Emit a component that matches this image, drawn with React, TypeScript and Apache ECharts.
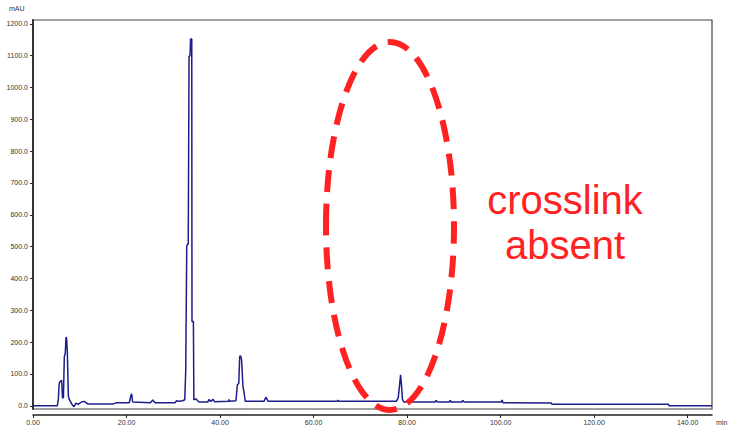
import React, { useEffect, useRef } from "react";
import * as echarts from "echarts";

const times: number[] = [
  0, 5.2, 5.42, 5.6, 5.78, 6.13, 6.3, 6.5, 6.7, 6.9, 7.06, 7.2, 7.34, 7.56, 7.77, 8.27, 8.77, 9.13, 9.7, 10.4, 10.98, 11.7,
  17.2, 17.9, 20.6, 20.9, 21.1, 21.3, 25.1, 25.6, 26.1, 30.4, 30.7, 31.2, 32.0, 32.45, 32.66, 32.88, 33.2, 33.37, 33.58,
  33.7, 33.95, 34.0, 34.3, 34.4, 34.8, 35.5, 37.4, 37.6, 38.0, 38.5, 38.8, 41.8, 41.9, 42.0, 43.4, 43.7, 44.0, 44.2, 44.4,
  44.6, 44.9, 45.1, 45.4, 49.4, 49.8, 50.3, 65.0, 65.2, 65.4, 77.7, 78.1, 78.4, 78.6, 78.8, 79.0, 79.3, 86.0, 86.2, 86.5,
  89.0, 89.2, 89.4, 91.7, 91.9, 92.2, 100.1, 100.3, 100.5, 110.8, 111.0, 135.9, 136.0, 145.2,
];
const absorbance: number[] = [
  0, 0, 21, 70, 76, 80, 25, 25, 155, 165, 216, 210, 170, 31, 20, 6, -3, 8, 5, 12, 14, 6,
  6, 10, 10, 30, 38, 12, 10, 18, 10, 10, 16, 14, 16, 19, 110, 503, 510, 1097, 1100,
  1152, 1152, 265, 265, 19, 22, 12, 12, 20, 14, 20, 13, 14, 20, 14, 16, 66, 70, 155, 157,
  145, 60, 45, 14, 14, 27, 14, 14, 18, 14, 14, 25, 66, 97, 66, 20, 12, 12, 17, 12,
  12, 17, 12, 12, 17, 12, 12, 18, 10, 9, 5, 5, 0, 0,
];
const xTicks: number[] = [0, 20, 40, 60, 80, 100, 120, 140];
const yTicks: number[] = [0, 100, 200, 300, 400, 500, 600, 700, 800, 900, 1000, 1100, 1200];
const annotationLines: string[] = ["crosslink", "absent"];

export default function App() {
  const ref = useRef<HTMLDivElement>(null);
  useEffect(() => {
    if (!ref.current) return;
    const chart = echarts.init(ref.current, undefined, { renderer: "svg" });
    const data = times.map((t, i) => [t, absorbance[i]]);
    const labelStyle = { fontSize: 7, color: "#333", fontFamily: "Liberation Sans, Arial, sans-serif" };
    chart.setOption({
      animation: false,
      backgroundColor: "#ffffff",
      grid: {
        left: 33,
        top: 20,
        right: 20,
        bottom: 18,
        show: true,
        borderColor: "#444",
        borderWidth: 1.2,
        backgroundColor: "transparent",
      },
      xAxis: {
        type: "value",
        min: 0,
        max: 145.2,
        offset: 6,
        axisLine: { show: true, onZero: false, lineStyle: { color: "#222", width: 1.5 } },
        axisTick: { show: true, length: 3, inside: false, customValues: xTicks, lineStyle: { color: "#222" } },
        axisLabel: { ...labelStyle, margin: 4, customValues: xTicks, formatter: (v: number) => v.toFixed(2) },
        splitLine: { show: false },
      },
      yAxis: {
        type: "value",
        min: -10,
        max: 1212,
        axisLine: { show: true, onZero: false, lineStyle: { color: "#333", width: 2 } },
        axisTick: { show: true, length: 3, inside: false, customValues: yTicks, lineStyle: { color: "#222" } },
        axisLabel: { ...labelStyle, margin: 5, customValues: yTicks, formatter: (v: number) => v.toFixed(1) },
        splitLine: { show: false },
      },
      series: [
        {
          type: "line",
          data,
          showSymbol: false,
          symbol: "none",
          lineStyle: { color: "#1c1c8a", width: 1.5 },
        },
      ],
      graphic: [
        {
          type: "text",
          left: 9,
          top: 5,
          style: { text: "mAU", ...labelStyle, fill: "#333", font: "7px Liberation Sans, Arial, sans-serif" },
        },
        {
          type: "text",
          left: 716,
          top: 419,
          style: { text: "min", fill: "#333", font: "7px Liberation Sans, Arial, sans-serif" },
        },
        {
          type: "ellipse",
          shape: { cx: 390, cy: 226, rx: 64, ry: 184 },
          style: { fill: "none", stroke: "#ff2222", lineWidth: 6, lineDash: [22, 12] },
          z: 100,
        },
        {
          type: "text",
          x: 565,
          y: 200,
          style: {
            text: annotationLines[0],
            fill: "#ff2222",
            font: "40px Liberation Sans, Arial, sans-serif",
            textAlign: "center",
            textVerticalAlign: "middle",
          },
          z: 100,
        },
        {
          type: "text",
          x: 565,
          y: 245,
          style: {
            text: annotationLines[1],
            fill: "#ff2222",
            font: "40px Liberation Sans, Arial, sans-serif",
            textAlign: "center",
            textVerticalAlign: "middle",
          },
          z: 100,
        },
      ],
    });
    return () => chart.dispose();
  }, []);
  return (
    <div
      ref={ref}
      style={{ position: "fixed", left: 0, top: 0, width: 732, height: 427, background: "#fff" }}
    />
  );
}
